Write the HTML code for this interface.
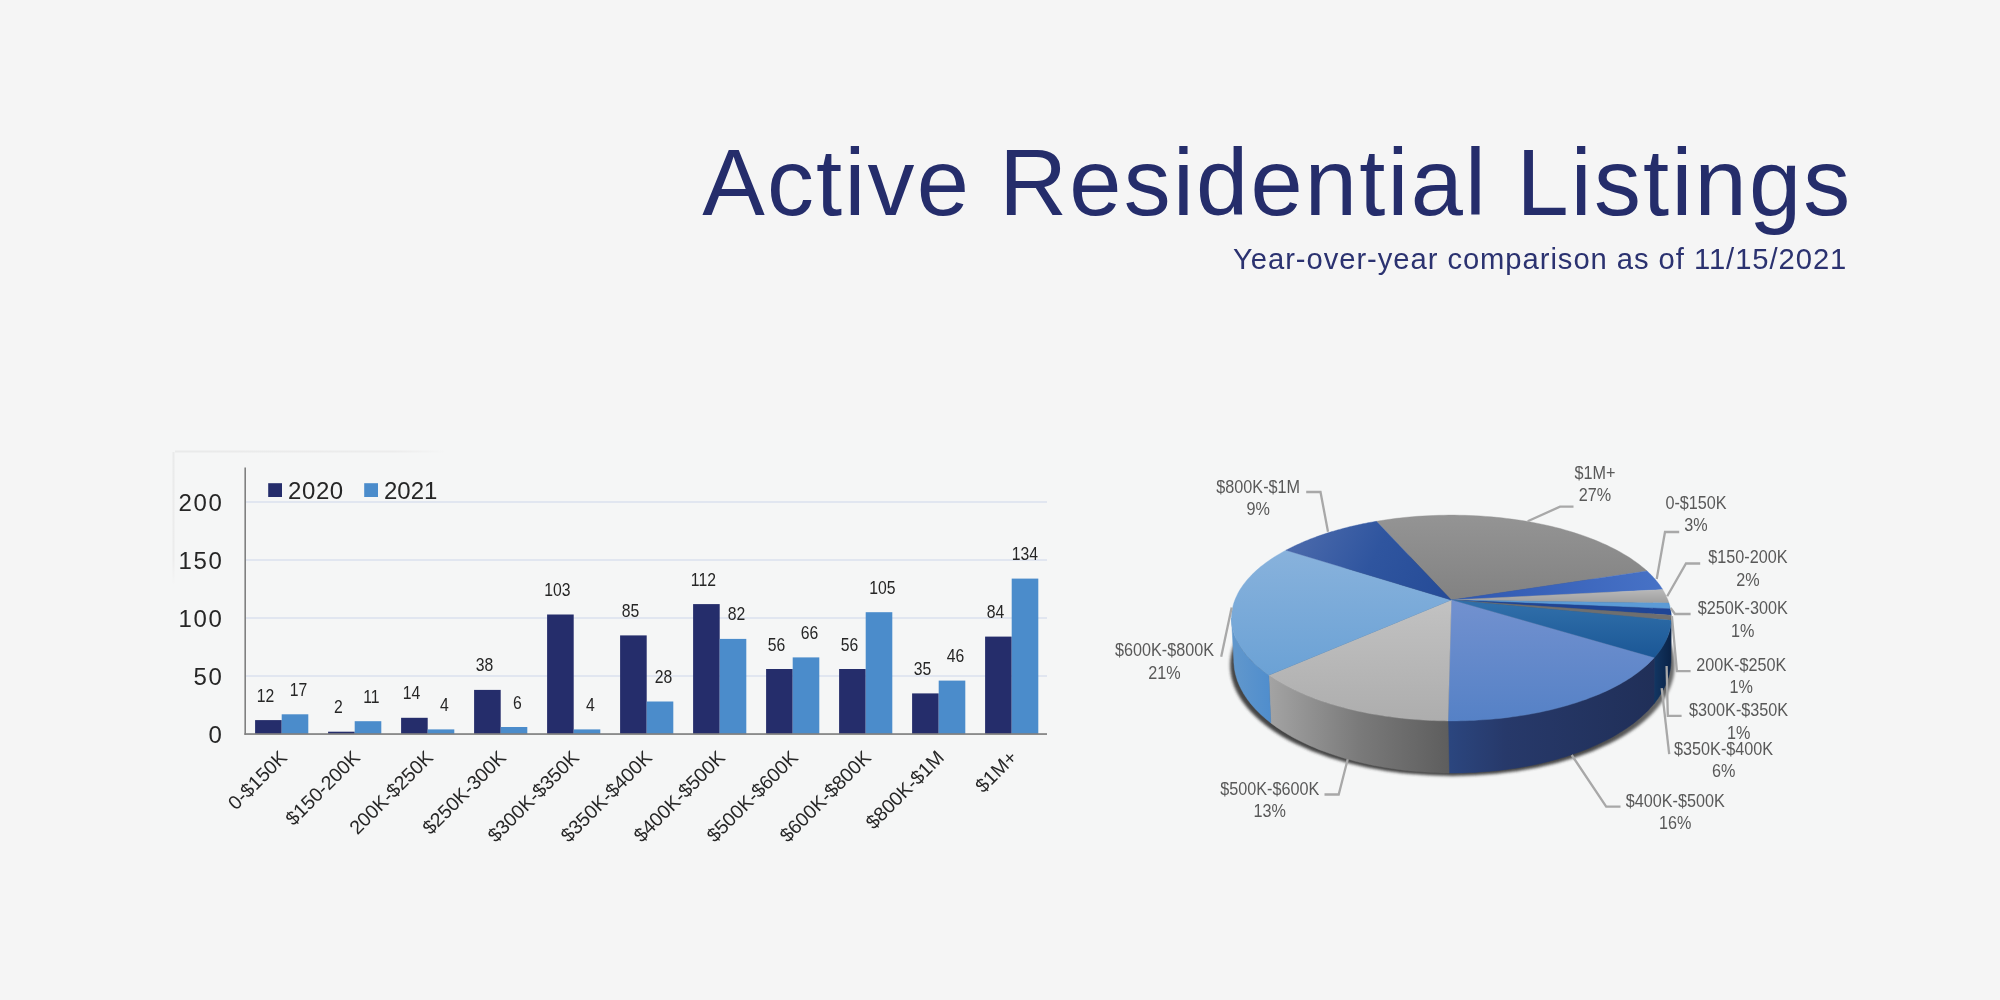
<!DOCTYPE html>
<html><head><meta charset="utf-8"><title>Active Residential Listings</title>
<style>
html,body{margin:0;padding:0;background:#f5f5f5;}
body{width:2000px;height:1000px;overflow:hidden;position:relative;font-family:"Liberation Sans",sans-serif;}
svg{position:absolute;left:0;top:0;display:block;will-change:transform;}
svg text{font-family:"Liberation Sans",sans-serif;}
.title{position:absolute;right:147.5px;top:130px;font-size:93.8px;line-height:105px;letter-spacing:2.25px;color:#252d6b;white-space:nowrap;margin:0;font-weight:normal;}
.sub{position:absolute;right:152.7px;top:243.3px;font-size:29.2px;line-height:33px;letter-spacing:0.95px;color:#2b3270;white-space:nowrap;margin:0;}
</style></head><body>
<svg width="2000" height="1000" viewBox="0 0 2000 1000">
<defs>
<filter id="blur" x="-10%" y="-10%" width="120%" height="120%"><feGaussianBlur stdDeviation="1.6"/></filter>
<linearGradient id="fadeH" x1="175" x2="447" y1="0" y2="0" gradientUnits="userSpaceOnUse"><stop offset="0" stop-color="#e9eaea"/><stop offset="0.8" stop-color="#ececec"/><stop offset="1" stop-color="#f5f6f6"/></linearGradient>
<linearGradient id="fadeV" x1="0" x2="0" y1="452" y2="585" gradientUnits="userSpaceOnUse"><stop offset="0" stop-color="#e9eaea"/><stop offset="0.8" stop-color="#ececec"/><stop offset="1" stop-color="#f5f6f6"/></linearGradient>
<linearGradient id="gShadow" x1="1230" y1="0" x2="1675" y2="0" gradientUnits="userSpaceOnUse"><stop offset="0" stop-color="#303030"/><stop offset="0.8" stop-color="#343434"/><stop offset="1" stop-color="#5e5e5e"/></linearGradient>
<linearGradient id="gGray" x1="0" y1="515" x2="0" y2="600" gradientUnits="userSpaceOnUse"><stop offset="0" stop-color="#949494"/><stop offset="1" stop-color="#828282"/></linearGradient>
<linearGradient id="gB0" x1="1451" y1="600" x2="1660" y2="575" gradientUnits="userSpaceOnUse"><stop offset="0" stop-color="#2f57b0"/><stop offset="1" stop-color="#4772c6"/></linearGradient>
<linearGradient id="gLG2" x1="0" y1="588" x2="0" y2="604" gradientUnits="userSpaceOnUse"><stop offset="0" stop-color="#bcbcbc"/><stop offset="1" stop-color="#9c9c9c"/></linearGradient>
<linearGradient id="gTeal" x1="0" y1="605" x2="0" y2="660" gradientUnits="userSpaceOnUse"><stop offset="0" stop-color="#2f6ea9"/><stop offset="1" stop-color="#1a5695"/></linearGradient>
<linearGradient id="gMed" x1="0" y1="600" x2="0" y2="722" gradientUnits="userSpaceOnUse"><stop offset="0" stop-color="#7291cf"/><stop offset="1" stop-color="#5581c6"/></linearGradient>
<linearGradient id="gLG" x1="0" y1="600" x2="0" y2="722" gradientUnits="userSpaceOnUse"><stop offset="0" stop-color="#c2c2c2"/><stop offset="1" stop-color="#adadad"/></linearGradient>
<linearGradient id="gLB" x1="0" y1="550" x2="0" y2="680" gradientUnits="userSpaceOnUse"><stop offset="0" stop-color="#88b2dc"/><stop offset="1" stop-color="#6aa1d5"/></linearGradient>
<linearGradient id="gDB" x1="1300" y1="530" x2="1440" y2="600" gradientUnits="userSpaceOnUse"><stop offset="0" stop-color="#4a69ab"/><stop offset="0.5" stop-color="#2f559f"/><stop offset="1" stop-color="#264c98"/></linearGradient>
<linearGradient id="sLB" x1="1231" y1="0" x2="1272" y2="0" gradientUnits="userSpaceOnUse"><stop offset="0" stop-color="#6298cc"/><stop offset="1" stop-color="#4f8dcd"/></linearGradient>
<linearGradient id="sGray" x1="1270" y1="0" x2="1448" y2="0" gradientUnits="userSpaceOnUse"><stop offset="0" stop-color="#a3a3a3"/><stop offset="0.5" stop-color="#7a7a7a"/><stop offset="1" stop-color="#5e5e5e"/></linearGradient>
<linearGradient id="sNavy" x1="1448" y1="0" x2="1656" y2="0" gradientUnits="userSpaceOnUse"><stop offset="0" stop-color="#2b467f"/><stop offset="0.28" stop-color="#27396a"/><stop offset="1" stop-color="#202f58"/></linearGradient>
<linearGradient id="sTeal" x1="1655" y1="0" x2="1671" y2="0" gradientUnits="userSpaceOnUse"><stop offset="0" stop-color="#123561"/><stop offset="1" stop-color="#0a2347"/></linearGradient>
</defs>
<g id="barchart">
<rect x="150" y="430" width="1700" height="420" fill="#f5f6f6"/>
<path d="M175 451.5 H447" stroke="url(#fadeH)" stroke-width="2" fill="none"/>
<path d="M173.5 452 V585" stroke="url(#fadeV)" stroke-width="2" fill="none"/>
<rect x="245.2" y="675.2" width="801.8" height="1.6" fill="#dde2ee"/>
<rect x="245.2" y="617.2" width="801.8" height="1.6" fill="#dde2ee"/>
<rect x="245.2" y="559.2" width="801.8" height="1.6" fill="#dde2ee"/>
<rect x="245.2" y="501.2" width="801.8" height="1.6" fill="#dde2ee"/>
<rect x="255.1" y="720.1" width="26.6" height="13.9" fill="#252d6b"/>
<rect x="281.7" y="714.3" width="26.6" height="19.7" fill="#4b8ccb"/>
<rect x="328.1" y="731.7" width="26.6" height="2.3" fill="#252d6b"/>
<rect x="354.7" y="721.2" width="26.6" height="12.8" fill="#4b8ccb"/>
<rect x="401.1" y="717.8" width="26.6" height="16.2" fill="#252d6b"/>
<rect x="427.7" y="729.4" width="26.6" height="4.6" fill="#4b8ccb"/>
<rect x="474.1" y="689.9" width="26.6" height="44.1" fill="#252d6b"/>
<rect x="500.7" y="727.0" width="26.6" height="7.0" fill="#4b8ccb"/>
<rect x="547.1" y="614.5" width="26.6" height="119.5" fill="#252d6b"/>
<rect x="573.7" y="729.4" width="26.6" height="4.6" fill="#4b8ccb"/>
<rect x="620.1" y="635.4" width="26.6" height="98.6" fill="#252d6b"/>
<rect x="646.7" y="701.5" width="26.6" height="32.5" fill="#4b8ccb"/>
<rect x="693.1" y="604.1" width="26.6" height="129.9" fill="#252d6b"/>
<rect x="719.7" y="638.9" width="26.6" height="95.1" fill="#4b8ccb"/>
<rect x="766.1" y="669.0" width="26.6" height="65.0" fill="#252d6b"/>
<rect x="792.7" y="657.4" width="26.6" height="76.6" fill="#4b8ccb"/>
<rect x="839.1" y="669.0" width="26.6" height="65.0" fill="#252d6b"/>
<rect x="865.7" y="612.2" width="26.6" height="121.8" fill="#4b8ccb"/>
<rect x="912.1" y="693.4" width="26.6" height="40.6" fill="#252d6b"/>
<rect x="938.7" y="680.6" width="26.6" height="53.4" fill="#4b8ccb"/>
<rect x="985.1" y="636.6" width="26.6" height="97.4" fill="#252d6b"/>
<rect x="1011.7" y="578.6" width="26.6" height="155.4" fill="#4b8ccb"/>
<rect x="244.4" y="467.5" width="1.6" height="267.3" fill="#808080"/>
<rect x="244.4" y="733.2" width="802.6" height="1.7" fill="#808080"/>
<text x="223.4" y="743.2" font-size="24" text-anchor="end" letter-spacing="1.6" fill="#262626">0</text>
<text x="223.4" y="685.2" font-size="24" text-anchor="end" letter-spacing="1.6" fill="#262626">50</text>
<text x="223.4" y="627.2" font-size="24" text-anchor="end" letter-spacing="1.6" fill="#262626">100</text>
<text x="223.4" y="569.2" font-size="24" text-anchor="end" letter-spacing="1.6" fill="#262626">150</text>
<text x="223.4" y="511.2" font-size="24" text-anchor="end" letter-spacing="1.6" fill="#262626">200</text>
<rect x="268.2" y="483.2" width="13.8" height="13.8" fill="#252d6b"/>
<text x="288" y="498.6" font-size="24" letter-spacing="0.6" fill="#262626">2020</text>
<rect x="364.2" y="483.2" width="13.8" height="13.8" fill="#4b8ccb"/>
<text x="384" y="498.6" font-size="24" fill="#262626">2021</text>
<text transform="translate(265.4,701.6) scale(0.9,1)" font-size="17.5" text-anchor="middle" fill="#262626">12</text>
<text transform="translate(298.4,695.8) scale(0.9,1)" font-size="17.5" text-anchor="middle" fill="#262626">17</text>
<text transform="translate(338.4,713.2) scale(0.9,1)" font-size="17.5" text-anchor="middle" fill="#262626">2</text>
<text transform="translate(371.4,702.7) scale(0.9,1)" font-size="17.5" text-anchor="middle" fill="#262626">11</text>
<text transform="translate(411.4,699.3) scale(0.9,1)" font-size="17.5" text-anchor="middle" fill="#262626">14</text>
<text transform="translate(444.4,710.9) scale(0.9,1)" font-size="17.5" text-anchor="middle" fill="#262626">4</text>
<text transform="translate(484.4,671.4) scale(0.9,1)" font-size="17.5" text-anchor="middle" fill="#262626">38</text>
<text transform="translate(517.4,708.5) scale(0.9,1)" font-size="17.5" text-anchor="middle" fill="#262626">6</text>
<text transform="translate(557.4,596.0) scale(0.9,1)" font-size="17.5" text-anchor="middle" fill="#262626">103</text>
<text transform="translate(590.4,710.9) scale(0.9,1)" font-size="17.5" text-anchor="middle" fill="#262626">4</text>
<text transform="translate(630.4,616.9) scale(0.9,1)" font-size="17.5" text-anchor="middle" fill="#262626">85</text>
<text transform="translate(663.4,683.0) scale(0.9,1)" font-size="17.5" text-anchor="middle" fill="#262626">28</text>
<text transform="translate(703.4,585.6) scale(0.9,1)" font-size="17.5" text-anchor="middle" fill="#262626">112</text>
<text transform="translate(736.4,620.4) scale(0.9,1)" font-size="17.5" text-anchor="middle" fill="#262626">82</text>
<text transform="translate(776.4,650.5) scale(0.9,1)" font-size="17.5" text-anchor="middle" fill="#262626">56</text>
<text transform="translate(809.4,638.9) scale(0.9,1)" font-size="17.5" text-anchor="middle" fill="#262626">66</text>
<text transform="translate(849.4,650.5) scale(0.9,1)" font-size="17.5" text-anchor="middle" fill="#262626">56</text>
<text transform="translate(882.4,593.7) scale(0.9,1)" font-size="17.5" text-anchor="middle" fill="#262626">105</text>
<text transform="translate(922.4,674.9) scale(0.9,1)" font-size="17.5" text-anchor="middle" fill="#262626">35</text>
<text transform="translate(955.4,662.1) scale(0.9,1)" font-size="17.5" text-anchor="middle" fill="#262626">46</text>
<text transform="translate(995.4,618.1) scale(0.9,1)" font-size="17.5" text-anchor="middle" fill="#262626">84</text>
<text transform="translate(1025.0,560.1) scale(0.9,1)" font-size="17.5" text-anchor="middle" fill="#262626">134</text>
<text transform="translate(288.2,758.8) rotate(-45)" font-size="19.55" text-anchor="end" fill="#262626">0-$150K</text>
<text transform="translate(361.2,758.8) rotate(-45)" font-size="19.55" text-anchor="end" fill="#262626">$150-200K</text>
<text transform="translate(434.2,758.8) rotate(-45)" font-size="19.55" text-anchor="end" fill="#262626">200K-$250K</text>
<text transform="translate(507.2,758.8) rotate(-45)" font-size="19.55" text-anchor="end" fill="#262626">$250K-300K</text>
<text transform="translate(580.2,758.8) rotate(-45)" font-size="19.55" text-anchor="end" fill="#262626">$300K-$350K</text>
<text transform="translate(653.2,758.8) rotate(-45)" font-size="19.55" text-anchor="end" fill="#262626">$350K-$400K</text>
<text transform="translate(726.2,758.8) rotate(-45)" font-size="19.55" text-anchor="end" fill="#262626">$400K-$500K</text>
<text transform="translate(799.2,758.8) rotate(-45)" font-size="19.55" text-anchor="end" fill="#262626">$500K-$600K</text>
<text transform="translate(872.2,758.8) rotate(-45)" font-size="19.55" text-anchor="end" fill="#262626">$600K-$800K</text>
<text transform="translate(945.2,758.8) rotate(-45)" font-size="19.55" text-anchor="end" fill="#262626">$800K-$1M</text>
<text transform="translate(1018.2,758.8) rotate(-45)" font-size="19.55" text-anchor="end" fill="#262626">$1M+</text>
</g>
<g id="piechart">
<ellipse cx="1452.4" cy="665" rx="222.3" ry="111" fill="url(#gShadow)" opacity="0.9" filter="url(#blur)"/>
<path d="M1671.3 618.0 L1671.3 618.7 L1671.3 619.4 L1671.3 620.0 L1671.2 620.7 L1671.2 621.4 L1671.1 622.1 L1671.1 622.8 L1671.0 623.5 L1670.9 624.1 L1670.8 624.8 L1670.7 625.5 L1670.6 626.2 L1670.5 626.9 L1670.4 627.5 L1670.2 628.2 L1670.1 628.9 L1669.9 629.6 L1669.7 630.2 L1669.6 630.9 L1669.4 631.6 L1669.2 632.3 L1669.0 632.9 L1668.8 633.6 L1668.5 634.3 L1668.3 635.0 L1668.0 635.6 L1667.8 636.3 L1667.5 637.0 L1667.3 637.6 L1667.0 638.3 L1666.7 639.0 L1666.4 639.7 L1666.1 640.3 L1665.7 641.0 L1665.4 641.6 L1665.1 642.3 L1664.7 643.0 L1664.4 643.6 L1664.0 644.3 L1663.6 645.0 L1663.2 645.6 L1662.8 646.3 L1662.4 646.9 L1662.0 647.6 L1661.6 648.2 L1661.2 648.9 L1660.7 649.5 L1660.3 650.2 L1659.8 650.8 L1659.3 651.5 L1658.9 652.1 L1658.4 652.8 L1657.9 653.4 L1657.4 654.0 L1656.9 654.7 L1656.3 655.3 L1655.8 655.9 L1655.3 656.6 L1654.7 657.2 L1654.2 657.8 L1654.0 703.7 L1654.5 703.1 L1655.1 702.4 L1655.6 701.7 L1656.1 701.0 L1656.6 700.3 L1657.2 699.6 L1657.7 698.9 L1658.2 698.2 L1658.6 697.5 L1659.1 696.8 L1659.6 696.0 L1660.0 695.3 L1660.5 694.6 L1660.9 693.9 L1661.4 693.2 L1661.8 692.5 L1662.2 691.8 L1662.6 691.0 L1663.0 690.3 L1663.4 689.6 L1663.7 688.9 L1664.1 688.1 L1664.5 687.4 L1664.8 686.7 L1665.1 686.0 L1665.5 685.2 L1665.8 684.5 L1666.1 683.8 L1666.4 683.0 L1666.7 682.3 L1667.0 681.6 L1667.2 680.8 L1667.5 680.1 L1667.8 679.4 L1668.0 678.6 L1668.2 677.9 L1668.5 677.2 L1668.7 676.4 L1668.9 675.7 L1669.1 674.9 L1669.3 674.2 L1669.4 673.4 L1669.6 672.7 L1669.8 672.0 L1669.9 671.2 L1670.1 670.5 L1670.2 669.7 L1670.3 669.0 L1670.4 668.2 L1670.5 667.5 L1670.6 666.7 L1670.7 666.0 L1670.8 665.2 L1670.8 664.5 L1670.9 663.7 L1670.9 663.0 L1671.0 662.2 L1671.0 661.5 L1671.0 660.7 L1671.0 660.0 Z" fill="url(#sTeal)" stroke="url(#sTeal)" stroke-width="0.5"/>
<path d="M1654.2 657.8 L1652.4 659.7 L1650.6 661.6 L1648.7 663.4 L1646.8 665.2 L1644.7 667.0 L1642.6 668.8 L1640.4 670.6 L1638.2 672.3 L1635.8 674.0 L1633.4 675.7 L1631.0 677.4 L1628.4 679.1 L1625.8 680.7 L1623.1 682.3 L1620.3 683.9 L1617.5 685.4 L1614.6 687.0 L1611.7 688.5 L1608.7 689.9 L1605.6 691.4 L1602.5 692.8 L1599.3 694.2 L1596.0 695.5 L1592.7 696.8 L1589.3 698.1 L1585.9 699.4 L1582.4 700.6 L1578.9 701.8 L1575.3 703.0 L1571.7 704.1 L1568.0 705.2 L1564.3 706.3 L1560.6 707.3 L1556.8 708.3 L1552.9 709.3 L1549.0 710.2 L1545.1 711.1 L1541.2 711.9 L1537.2 712.8 L1533.1 713.5 L1529.1 714.3 L1525.0 715.0 L1520.9 715.6 L1516.7 716.3 L1512.5 716.8 L1508.3 717.4 L1504.1 717.9 L1499.9 718.4 L1495.6 718.8 L1491.3 719.2 L1487.1 719.5 L1482.8 719.8 L1478.4 720.1 L1474.1 720.4 L1469.8 720.5 L1465.4 720.7 L1461.1 720.8 L1456.7 720.9 L1452.4 720.9 L1448.0 720.9 L1449.0 773.0 L1453.4 773.0 L1457.7 773.0 L1462.0 772.9 L1466.3 772.8 L1470.7 772.6 L1475.0 772.4 L1479.3 772.1 L1483.6 771.8 L1487.8 771.5 L1492.1 771.1 L1496.4 770.7 L1500.6 770.2 L1504.8 769.7 L1509.0 769.1 L1513.2 768.5 L1517.3 767.9 L1521.4 767.2 L1525.5 766.5 L1529.6 765.7 L1533.6 764.9 L1537.7 764.1 L1541.6 763.2 L1545.6 762.2 L1549.5 761.3 L1553.3 760.2 L1557.1 759.2 L1560.9 758.1 L1564.7 757.0 L1568.4 755.8 L1572.0 754.6 L1575.6 753.3 L1579.2 752.1 L1582.7 750.7 L1586.1 749.4 L1589.5 748.0 L1592.9 746.6 L1596.1 745.1 L1599.4 743.6 L1602.6 742.1 L1605.7 740.6 L1608.7 739.0 L1611.7 737.4 L1614.7 735.7 L1617.5 734.0 L1620.3 732.3 L1623.1 730.6 L1625.8 728.8 L1628.4 727.1 L1630.9 725.2 L1633.4 723.4 L1635.8 721.5 L1638.1 719.6 L1640.3 717.7 L1642.5 715.8 L1644.6 713.8 L1646.6 711.9 L1648.6 709.9 L1650.4 707.8 L1652.2 705.8 L1654.0 703.7 Z" fill="url(#sNavy)" stroke="url(#sNavy)" stroke-width="0.5"/>
<path d="M1448.0 720.9 L1444.5 720.8 L1440.9 720.8 L1437.4 720.7 L1433.9 720.6 L1430.4 720.4 L1426.8 720.3 L1423.3 720.1 L1419.8 719.8 L1416.3 719.6 L1412.9 719.3 L1409.4 719.0 L1405.9 718.7 L1402.5 718.3 L1399.0 717.9 L1395.6 717.5 L1392.2 717.1 L1388.8 716.6 L1385.4 716.2 L1382.0 715.6 L1378.7 715.1 L1375.4 714.6 L1372.1 714.0 L1368.8 713.4 L1365.5 712.7 L1362.3 712.1 L1359.0 711.4 L1355.8 710.7 L1352.7 709.9 L1349.5 709.2 L1346.4 708.4 L1343.3 707.6 L1340.3 706.8 L1337.2 705.9 L1334.2 705.1 L1331.2 704.2 L1328.3 703.3 L1325.4 702.3 L1322.5 701.4 L1319.6 700.4 L1316.8 699.4 L1314.1 698.4 L1311.3 697.3 L1308.6 696.3 L1305.9 695.2 L1303.3 694.1 L1300.7 692.9 L1298.2 691.8 L1295.6 690.6 L1293.2 689.5 L1290.7 688.3 L1288.3 687.0 L1286.0 685.8 L1283.7 684.5 L1281.4 683.3 L1279.2 682.0 L1277.0 680.7 L1274.9 679.4 L1272.8 678.0 L1270.8 676.7 L1268.8 675.3 L1270.8 722.9 L1272.8 724.4 L1274.9 725.9 L1276.9 727.4 L1279.0 728.8 L1281.2 730.3 L1283.4 731.7 L1285.7 733.1 L1288.0 734.5 L1290.3 735.8 L1292.7 737.2 L1295.1 738.5 L1297.6 739.8 L1300.1 741.0 L1302.6 742.3 L1305.2 743.5 L1307.8 744.7 L1310.5 745.9 L1313.1 747.1 L1315.9 748.2 L1318.6 749.4 L1321.4 750.5 L1324.3 751.5 L1327.1 752.6 L1330.0 753.6 L1332.9 754.6 L1335.9 755.6 L1338.9 756.6 L1341.9 757.5 L1345.0 758.4 L1348.0 759.3 L1351.1 760.1 L1354.3 761.0 L1357.4 761.8 L1360.6 762.6 L1363.8 763.3 L1367.0 764.0 L1370.3 764.7 L1373.5 765.4 L1376.8 766.0 L1380.1 766.6 L1383.4 767.2 L1386.8 767.8 L1390.2 768.3 L1393.5 768.8 L1396.9 769.3 L1400.3 769.7 L1403.7 770.2 L1407.2 770.6 L1410.6 770.9 L1414.1 771.3 L1417.5 771.6 L1421.0 771.8 L1424.5 772.1 L1428.0 772.3 L1431.5 772.5 L1435.0 772.6 L1438.5 772.8 L1442.0 772.9 L1445.5 772.9 L1449.0 773.0 Z" fill="url(#sGray)" stroke="url(#sGray)" stroke-width="0.5"/>
<path d="M1268.8 675.3 L1267.6 674.5 L1266.4 673.6 L1265.2 672.8 L1264.1 671.9 L1263.0 671.0 L1261.9 670.2 L1260.8 669.3 L1259.7 668.4 L1258.6 667.5 L1257.6 666.6 L1256.6 665.7 L1255.6 664.8 L1254.6 663.9 L1253.7 663.0 L1252.7 662.1 L1251.8 661.2 L1250.9 660.3 L1250.0 659.4 L1249.2 658.4 L1248.3 657.5 L1247.5 656.5 L1246.7 655.6 L1245.9 654.7 L1245.2 653.7 L1244.4 652.8 L1243.7 651.8 L1243.0 650.8 L1242.3 649.9 L1241.7 648.9 L1241.0 648.0 L1240.4 647.0 L1239.8 646.0 L1239.2 645.0 L1238.7 644.1 L1238.1 643.1 L1237.6 642.1 L1237.1 641.1 L1236.6 640.1 L1236.2 639.1 L1235.7 638.1 L1235.3 637.1 L1234.9 636.1 L1234.6 635.1 L1234.2 634.1 L1233.9 633.1 L1233.6 632.1 L1233.3 631.1 L1233.0 630.1 L1232.8 629.1 L1232.6 628.1 L1232.4 627.1 L1232.2 626.1 L1232.0 625.1 L1231.9 624.1 L1231.8 623.1 L1231.7 622.1 L1231.6 621.0 L1231.5 620.0 L1231.5 619.0 L1231.5 618.0 L1233.8 660.0 L1233.8 661.1 L1233.8 662.2 L1233.9 663.3 L1234.0 664.4 L1234.1 665.6 L1234.2 666.7 L1234.3 667.8 L1234.5 668.9 L1234.7 670.0 L1234.9 671.1 L1235.1 672.2 L1235.3 673.3 L1235.6 674.4 L1235.9 675.5 L1236.2 676.6 L1236.5 677.7 L1236.9 678.8 L1237.2 679.9 L1237.6 681.0 L1238.0 682.1 L1238.5 683.2 L1238.9 684.3 L1239.4 685.4 L1239.9 686.5 L1240.4 687.5 L1240.9 688.6 L1241.5 689.7 L1242.1 690.8 L1242.7 691.8 L1243.3 692.9 L1243.9 694.0 L1244.6 695.0 L1245.2 696.1 L1245.9 697.1 L1246.7 698.2 L1247.4 699.2 L1248.1 700.3 L1248.9 701.3 L1249.7 702.3 L1250.5 703.4 L1251.4 704.4 L1252.2 705.4 L1253.1 706.4 L1254.0 707.4 L1254.9 708.4 L1255.8 709.4 L1256.8 710.4 L1257.8 711.4 L1258.8 712.4 L1259.8 713.4 L1260.8 714.4 L1261.8 715.4 L1262.9 716.3 L1264.0 717.3 L1265.1 718.2 L1266.2 719.2 L1267.3 720.1 L1268.5 721.1 L1269.7 722.0 L1270.8 722.9 Z" fill="url(#sLB)" stroke="url(#sLB)" stroke-width="0.5"/>
<path d="M1451.3 600.0 L1376.4 521.3 L1381.4 520.5 L1386.4 519.7 L1391.5 519.0 L1396.6 518.3 L1401.8 517.8 L1406.9 517.2 L1412.1 516.8 L1417.4 516.3 L1422.6 516.0 L1427.9 515.7 L1433.1 515.5 L1438.4 515.3 L1443.7 515.2 L1449.0 515.1 L1454.3 515.1 L1459.6 515.2 L1464.9 515.3 L1470.2 515.5 L1475.4 515.7 L1480.7 516.0 L1485.9 516.4 L1491.1 516.8 L1496.3 517.3 L1501.5 517.8 L1506.7 518.4 L1511.8 519.1 L1516.8 519.8 L1521.9 520.5 L1526.9 521.3 L1531.8 522.2 L1536.7 523.2 L1541.6 524.2 L1546.4 525.2 L1551.1 526.3 L1555.8 527.4 L1560.4 528.6 L1565.0 529.9 L1569.5 531.2 L1573.9 532.6 L1578.3 534.0 L1582.6 535.4 L1586.8 536.9 L1590.9 538.5 L1595.0 540.1 L1599.0 541.7 L1602.8 543.4 L1606.6 545.1 L1610.3 546.9 L1614.0 548.7 L1617.5 550.6 L1620.9 552.4 L1624.2 554.4 L1627.4 556.3 L1630.6 558.3 L1633.6 560.4 L1636.5 562.4 L1639.3 564.5 L1642.0 566.7 L1644.6 568.8 L1647.1 571.0 Z" fill="url(#gGray)" stroke="url(#gGray)" stroke-width="0.4"/>
<path d="M1451.3 600.0 L1647.1 571.0 L1647.4 571.3 L1647.7 571.6 L1648.0 571.9 L1648.3 572.2 L1648.7 572.5 L1649.0 572.8 L1649.3 573.1 L1649.6 573.4 L1649.9 573.7 L1650.2 574.0 L1650.5 574.3 L1650.8 574.6 L1651.1 574.9 L1651.4 575.2 L1651.7 575.5 L1652.0 575.8 L1652.3 576.1 L1652.6 576.4 L1652.9 576.8 L1653.1 577.1 L1653.4 577.4 L1653.7 577.7 L1654.0 578.0 L1654.3 578.3 L1654.5 578.6 L1654.8 578.9 L1655.1 579.2 L1655.3 579.5 L1655.6 579.8 L1655.9 580.1 L1656.1 580.4 L1656.4 580.8 L1656.6 581.1 L1656.9 581.4 L1657.2 581.7 L1657.4 582.0 L1657.6 582.3 L1657.9 582.6 L1658.1 582.9 L1658.4 583.2 L1658.6 583.6 L1658.9 583.9 L1659.1 584.2 L1659.3 584.5 L1659.6 584.8 L1659.8 585.1 L1660.0 585.5 L1660.2 585.8 L1660.5 586.1 L1660.7 586.4 L1660.9 586.7 L1661.1 587.0 L1661.3 587.4 L1661.5 587.7 L1661.7 588.0 L1661.9 588.3 L1662.2 588.6 L1662.4 588.9 L1662.6 589.3 L1662.8 589.6 Z" fill="url(#gB0)" stroke="url(#gB0)" stroke-width="0.4"/>
<path d="M1451.3 600.0 L1662.8 589.6 L1662.9 589.8 L1663.0 590.0 L1663.2 590.3 L1663.3 590.5 L1663.4 590.7 L1663.5 590.9 L1663.7 591.1 L1663.8 591.4 L1663.9 591.6 L1664.1 591.8 L1664.2 592.0 L1664.3 592.2 L1664.4 592.5 L1664.5 592.7 L1664.7 592.9 L1664.8 593.1 L1664.9 593.4 L1665.0 593.6 L1665.1 593.8 L1665.3 594.0 L1665.4 594.3 L1665.5 594.5 L1665.6 594.7 L1665.7 594.9 L1665.8 595.1 L1665.9 595.4 L1666.0 595.6 L1666.1 595.8 L1666.2 596.0 L1666.3 596.3 L1666.4 596.5 L1666.5 596.7 L1666.6 596.9 L1666.7 597.2 L1666.8 597.4 L1666.9 597.6 L1667.0 597.8 L1667.1 598.1 L1667.2 598.3 L1667.3 598.5 L1667.4 598.7 L1667.5 599.0 L1667.6 599.2 L1667.7 599.4 L1667.8 599.6 L1667.9 599.9 L1667.9 600.1 L1668.0 600.3 L1668.1 600.6 L1668.2 600.8 L1668.3 601.0 L1668.4 601.2 L1668.4 601.5 L1668.5 601.7 L1668.6 601.9 L1668.7 602.1 L1668.7 602.4 L1668.8 602.6 L1668.9 602.8 L1669.0 603.1 Z" fill="url(#gLG2)" stroke="url(#gLG2)" stroke-width="0.4"/>
<path d="M1451.3 600.0 L1669.0 603.1 L1669.0 603.1 L1669.0 603.2 L1669.1 603.3 L1669.1 603.4 L1669.1 603.5 L1669.1 603.6 L1669.2 603.7 L1669.2 603.8 L1669.2 603.9 L1669.3 604.0 L1669.3 604.1 L1669.3 604.2 L1669.3 604.3 L1669.4 604.4 L1669.4 604.5 L1669.4 604.6 L1669.4 604.7 L1669.5 604.8 L1669.5 604.9 L1669.5 605.0 L1669.6 605.1 L1669.6 605.2 L1669.6 605.2 L1669.6 605.3 L1669.7 605.4 L1669.7 605.5 L1669.7 605.6 L1669.7 605.7 L1669.8 605.8 L1669.8 605.9 L1669.8 606.0 L1669.8 606.1 L1669.9 606.2 L1669.9 606.3 L1669.9 606.4 L1669.9 606.5 L1669.9 606.6 L1670.0 606.7 L1670.0 606.8 L1670.0 606.9 L1670.0 607.0 L1670.1 607.1 L1670.1 607.2 L1670.1 607.3 L1670.1 607.4 L1670.1 607.5 L1670.2 607.5 L1670.2 607.6 L1670.2 607.7 L1670.2 607.8 L1670.2 607.9 L1670.3 608.0 L1670.3 608.1 L1670.3 608.2 L1670.3 608.3 L1670.3 608.4 L1670.4 608.5 L1670.4 608.6 L1670.4 608.7 L1670.4 608.8 Z" fill="#5c9bd6" stroke="#5c9bd6" stroke-width="0.4"/>
<path d="M1451.3 600.0 L1670.4 608.8 L1670.4 608.9 L1670.5 609.0 L1670.5 609.1 L1670.5 609.2 L1670.5 609.3 L1670.5 609.4 L1670.6 609.5 L1670.6 609.6 L1670.6 609.8 L1670.6 609.9 L1670.6 610.0 L1670.6 610.1 L1670.7 610.2 L1670.7 610.3 L1670.7 610.4 L1670.7 610.5 L1670.7 610.6 L1670.7 610.7 L1670.8 610.8 L1670.8 610.9 L1670.8 611.0 L1670.8 611.1 L1670.8 611.2 L1670.8 611.3 L1670.9 611.5 L1670.9 611.6 L1670.9 611.7 L1670.9 611.8 L1670.9 611.9 L1670.9 612.0 L1670.9 612.1 L1671.0 612.2 L1671.0 612.3 L1671.0 612.4 L1671.0 612.5 L1671.0 612.6 L1671.0 612.7 L1671.0 612.8 L1671.0 612.9 L1671.0 613.1 L1671.1 613.2 L1671.1 613.3 L1671.1 613.4 L1671.1 613.5 L1671.1 613.6 L1671.1 613.7 L1671.1 613.8 L1671.1 613.9 L1671.1 614.0 L1671.1 614.1 L1671.2 614.2 L1671.2 614.3 L1671.2 614.4 L1671.2 614.5 L1671.2 614.7 L1671.2 614.8 L1671.2 614.9 L1671.2 615.0 L1671.2 615.1 L1671.2 615.2 Z" fill="#1f4596" stroke="#1f4596" stroke-width="0.4"/>
<path d="M1451.3 600.0 L1671.2 615.2 L1671.2 615.3 L1671.2 615.4 L1671.2 615.4 L1671.2 615.5 L1671.2 615.6 L1671.2 615.7 L1671.2 615.8 L1671.3 615.9 L1671.3 616.0 L1671.3 616.0 L1671.3 616.1 L1671.3 616.2 L1671.3 616.3 L1671.3 616.4 L1671.3 616.5 L1671.3 616.6 L1671.3 616.6 L1671.3 616.7 L1671.3 616.8 L1671.3 616.9 L1671.3 617.0 L1671.3 617.1 L1671.3 617.2 L1671.3 617.2 L1671.3 617.3 L1671.3 617.4 L1671.3 617.5 L1671.3 617.6 L1671.3 617.7 L1671.3 617.7 L1671.3 617.8 L1671.3 617.9 L1671.3 618.0 L1671.3 618.1 L1671.3 618.2 L1671.3 618.3 L1671.3 618.3 L1671.3 618.4 L1671.3 618.5 L1671.3 618.6 L1671.3 618.7 L1671.3 618.8 L1671.3 618.9 L1671.3 618.9 L1671.3 619.0 L1671.3 619.1 L1671.3 619.2 L1671.3 619.3 L1671.3 619.4 L1671.3 619.5 L1671.3 619.5 L1671.3 619.6 L1671.3 619.7 L1671.3 619.8 L1671.3 619.9 L1671.3 620.0 L1671.3 620.1 L1671.3 620.1 L1671.2 620.2 L1671.2 620.3 Z" fill="#6f6f6f" stroke="#6f6f6f" stroke-width="0.4"/>
<path d="M1451.3 600.0 L1671.2 620.3 L1671.2 621.0 L1671.2 621.6 L1671.1 622.2 L1671.1 622.9 L1671.0 623.5 L1670.9 624.2 L1670.8 624.8 L1670.7 625.4 L1670.6 626.1 L1670.5 626.7 L1670.4 627.4 L1670.3 628.0 L1670.1 628.7 L1670.0 629.3 L1669.8 629.9 L1669.7 630.6 L1669.5 631.2 L1669.3 631.8 L1669.1 632.5 L1668.9 633.1 L1668.7 633.8 L1668.5 634.4 L1668.3 635.0 L1668.0 635.7 L1667.8 636.3 L1667.5 636.9 L1667.3 637.6 L1667.0 638.2 L1666.8 638.8 L1666.5 639.4 L1666.2 640.1 L1665.9 640.7 L1665.6 641.3 L1665.3 642.0 L1664.9 642.6 L1664.6 643.2 L1664.3 643.8 L1663.9 644.5 L1663.6 645.1 L1663.2 645.7 L1662.8 646.3 L1662.4 646.9 L1662.0 647.5 L1661.6 648.2 L1661.2 648.8 L1660.8 649.4 L1660.4 650.0 L1660.0 650.6 L1659.5 651.2 L1659.1 651.8 L1658.6 652.4 L1658.2 653.0 L1657.7 653.6 L1657.2 654.2 L1656.7 654.8 L1656.2 655.4 L1655.7 656.0 L1655.2 656.6 L1654.7 657.2 L1654.2 657.8 Z" fill="url(#gTeal)" stroke="url(#gTeal)" stroke-width="0.4"/>
<path d="M1451.3 600.0 L1654.2 657.8 L1652.4 659.7 L1650.6 661.6 L1648.7 663.4 L1646.8 665.2 L1644.7 667.0 L1642.6 668.8 L1640.4 670.6 L1638.2 672.3 L1635.8 674.0 L1633.4 675.7 L1631.0 677.4 L1628.4 679.1 L1625.8 680.7 L1623.1 682.3 L1620.3 683.9 L1617.5 685.4 L1614.6 687.0 L1611.7 688.5 L1608.7 689.9 L1605.6 691.4 L1602.5 692.8 L1599.3 694.2 L1596.0 695.5 L1592.7 696.8 L1589.3 698.1 L1585.9 699.4 L1582.4 700.6 L1578.9 701.8 L1575.3 703.0 L1571.7 704.1 L1568.0 705.2 L1564.3 706.3 L1560.6 707.3 L1556.8 708.3 L1552.9 709.3 L1549.0 710.2 L1545.1 711.1 L1541.2 711.9 L1537.2 712.8 L1533.1 713.5 L1529.1 714.3 L1525.0 715.0 L1520.9 715.6 L1516.7 716.3 L1512.5 716.8 L1508.3 717.4 L1504.1 717.9 L1499.9 718.4 L1495.6 718.8 L1491.3 719.2 L1487.1 719.5 L1482.8 719.8 L1478.4 720.1 L1474.1 720.4 L1469.8 720.5 L1465.4 720.7 L1461.1 720.8 L1456.7 720.9 L1452.4 720.9 L1448.0 720.9 Z" fill="url(#gMed)" stroke="url(#gMed)" stroke-width="0.4"/>
<path d="M1451.3 600.0 L1448.0 720.9 L1444.5 720.8 L1440.9 720.8 L1437.4 720.7 L1433.9 720.6 L1430.4 720.4 L1426.8 720.3 L1423.3 720.1 L1419.8 719.8 L1416.3 719.6 L1412.9 719.3 L1409.4 719.0 L1405.9 718.7 L1402.5 718.3 L1399.0 717.9 L1395.6 717.5 L1392.2 717.1 L1388.8 716.6 L1385.4 716.2 L1382.0 715.6 L1378.7 715.1 L1375.4 714.6 L1372.1 714.0 L1368.8 713.4 L1365.5 712.7 L1362.3 712.1 L1359.0 711.4 L1355.8 710.7 L1352.7 709.9 L1349.5 709.2 L1346.4 708.4 L1343.3 707.6 L1340.3 706.8 L1337.2 705.9 L1334.2 705.1 L1331.2 704.2 L1328.3 703.3 L1325.4 702.3 L1322.5 701.4 L1319.6 700.4 L1316.8 699.4 L1314.1 698.4 L1311.3 697.3 L1308.6 696.3 L1305.9 695.2 L1303.3 694.1 L1300.7 692.9 L1298.2 691.8 L1295.6 690.6 L1293.2 689.5 L1290.7 688.3 L1288.3 687.0 L1286.0 685.8 L1283.7 684.5 L1281.4 683.3 L1279.2 682.0 L1277.0 680.7 L1274.9 679.4 L1272.8 678.0 L1270.8 676.7 L1268.8 675.3 Z" fill="url(#gLG)" stroke="url(#gLG)" stroke-width="0.4"/>
<path d="M1451.3 600.0 L1268.8 675.3 L1266.1 673.4 L1263.6 671.5 L1261.1 669.6 L1258.8 667.6 L1256.5 665.7 L1254.3 663.7 L1252.3 661.6 L1250.3 659.6 L1248.4 657.5 L1246.6 655.4 L1244.9 653.3 L1243.3 651.2 L1241.8 649.1 L1240.4 646.9 L1239.1 644.8 L1237.9 642.6 L1236.8 640.4 L1235.8 638.2 L1234.9 636.0 L1234.1 633.8 L1233.4 631.6 L1232.8 629.3 L1232.4 627.1 L1232.0 624.9 L1231.7 622.6 L1231.6 620.4 L1231.5 618.1 L1231.5 615.9 L1231.7 613.7 L1232.0 611.4 L1232.3 609.2 L1232.8 606.9 L1233.3 604.7 L1234.0 602.5 L1234.8 600.3 L1235.7 598.1 L1236.7 595.9 L1237.7 593.7 L1238.9 591.5 L1240.2 589.3 L1241.6 587.2 L1243.1 585.0 L1244.7 582.9 L1246.4 580.8 L1248.1 578.7 L1250.0 576.7 L1252.0 574.6 L1254.1 572.6 L1256.2 570.6 L1258.5 568.6 L1260.8 566.6 L1263.3 564.7 L1265.8 562.8 L1268.4 560.9 L1271.1 559.1 L1273.9 557.2 L1276.8 555.4 L1279.8 553.7 L1282.8 551.9 L1285.9 550.2 Z" fill="url(#gLB)" stroke="url(#gLB)" stroke-width="0.4"/>
<path d="M1451.3 600.0 L1285.9 550.2 L1287.2 549.6 L1288.4 548.9 L1289.6 548.3 L1290.9 547.7 L1292.2 547.0 L1293.4 546.4 L1294.7 545.8 L1296.0 545.2 L1297.3 544.6 L1298.7 544.0 L1300.0 543.4 L1301.3 542.8 L1302.7 542.2 L1304.1 541.6 L1305.4 541.0 L1306.8 540.5 L1308.2 539.9 L1309.6 539.3 L1311.0 538.8 L1312.5 538.2 L1313.9 537.7 L1315.3 537.2 L1316.8 536.6 L1318.3 536.1 L1319.7 535.6 L1321.2 535.1 L1322.7 534.6 L1324.2 534.1 L1325.7 533.6 L1327.2 533.1 L1328.8 532.6 L1330.3 532.1 L1331.9 531.6 L1333.4 531.2 L1335.0 530.7 L1336.5 530.3 L1338.1 529.8 L1339.7 529.4 L1341.3 528.9 L1342.9 528.5 L1344.5 528.1 L1346.1 527.7 L1347.8 527.2 L1349.4 526.8 L1351.0 526.4 L1352.7 526.1 L1354.3 525.7 L1356.0 525.3 L1357.7 524.9 L1359.3 524.6 L1361.0 524.2 L1362.7 523.8 L1364.4 523.5 L1366.1 523.2 L1367.8 522.8 L1369.5 522.5 L1371.2 522.2 L1372.9 521.9 L1374.7 521.6 L1376.4 521.3 Z" fill="url(#gDB)" stroke="url(#gDB)" stroke-width="0.4"/>
<path d="M1306.2 492 H1320.5 L1328 531.7" fill="none" stroke="#a8a8a8" stroke-width="2.3" stroke-linejoin="miter"/>
<path d="M1573.5 506.7 H1560 L1527.7 521.2" fill="none" stroke="#a8a8a8" stroke-width="2.3" stroke-linejoin="miter"/>
<path d="M1679.2 532 H1665 L1656.7 579" fill="none" stroke="#a8a8a8" stroke-width="2.3" stroke-linejoin="miter"/>
<path d="M1700.2 563.5 H1686 L1667.2 596.2" fill="none" stroke="#a8a8a8" stroke-width="2.3" stroke-linejoin="miter"/>
<path d="M1690.6 614 H1675 L1670.6 608" fill="none" stroke="#a8a8a8" stroke-width="2.3" stroke-linejoin="miter"/>
<path d="M1690.6 671.2 H1676.9 L1671.9 616.2" fill="none" stroke="#a8a8a8" stroke-width="2.3" stroke-linejoin="miter"/>
<path d="M1681.6 715.8 H1667.8 L1666.6 666" fill="none" stroke="#a8a8a8" stroke-width="2.3" stroke-linejoin="miter"/>
<path d="M1669.2 754.2 L1661.7 688.2" fill="none" stroke="#a8a8a8" stroke-width="2.3" stroke-linejoin="miter"/>
<path d="M1620.5 806.7 H1606.2 L1571.7 755" fill="none" stroke="#a8a8a8" stroke-width="2.3" stroke-linejoin="miter"/>
<path d="M1324.5 794.5 H1338.7 L1347.7 759.3" fill="none" stroke="#a8a8a8" stroke-width="2.3" stroke-linejoin="miter"/>
<path d="M1221.2 656.7 L1231.7 607.5" fill="none" stroke="#a8a8a8" stroke-width="2.3" stroke-linejoin="miter"/>
<text transform="translate(1258.2,492.7) scale(0.9,1)" font-size="18" text-anchor="middle" fill="#595959">$800K-$1M</text><text transform="translate(1258.2,515.3) scale(0.9,1)" font-size="18" text-anchor="middle" fill="#595959">9%</text>
<text transform="translate(1594.9,478.5) scale(0.9,1)" font-size="18" text-anchor="middle" fill="#595959">$1M+</text><text transform="translate(1594.9,501.1) scale(0.9,1)" font-size="18" text-anchor="middle" fill="#595959">27%</text>
<text transform="translate(1696.0,508.5) scale(0.9,1)" font-size="18" text-anchor="middle" fill="#595959">0-$150K</text><text transform="translate(1696.0,531.1) scale(0.9,1)" font-size="18" text-anchor="middle" fill="#595959">3%</text>
<text transform="translate(1747.9,563.2) scale(0.9,1)" font-size="18" text-anchor="middle" fill="#595959">$150-200K</text><text transform="translate(1747.9,585.8) scale(0.9,1)" font-size="18" text-anchor="middle" fill="#595959">2%</text>
<text transform="translate(1742.8,614.4) scale(0.9,1)" font-size="18" text-anchor="middle" fill="#595959">$250K-300K</text><text transform="translate(1742.8,637.0) scale(0.9,1)" font-size="18" text-anchor="middle" fill="#595959">1%</text>
<text transform="translate(1741.2,670.6) scale(0.9,1)" font-size="18" text-anchor="middle" fill="#595959">200K-$250K</text><text transform="translate(1741.2,693.2) scale(0.9,1)" font-size="18" text-anchor="middle" fill="#595959">1%</text>
<text transform="translate(1738.6,716.0) scale(0.9,1)" font-size="18" text-anchor="middle" fill="#595959">$300K-$350K</text><text transform="translate(1738.6,738.6) scale(0.9,1)" font-size="18" text-anchor="middle" fill="#595959">1%</text>
<text transform="translate(1723.6,754.5) scale(0.9,1)" font-size="18" text-anchor="middle" fill="#595959">$350K-$400K</text><text transform="translate(1723.6,777.1) scale(0.9,1)" font-size="18" text-anchor="middle" fill="#595959">6%</text>
<text transform="translate(1675.2,806.7) scale(0.9,1)" font-size="18" text-anchor="middle" fill="#595959">$400K-$500K</text><text transform="translate(1675.2,829.3) scale(0.9,1)" font-size="18" text-anchor="middle" fill="#595959">16%</text>
<text transform="translate(1269.7,794.5) scale(0.9,1)" font-size="18" text-anchor="middle" fill="#595959">$500K-$600K</text><text transform="translate(1269.7,817.1) scale(0.9,1)" font-size="18" text-anchor="middle" fill="#595959">13%</text>
<text transform="translate(1164.5,656.2) scale(0.9,1)" font-size="18" text-anchor="middle" fill="#595959">$600K-$800K</text><text transform="translate(1164.5,678.8) scale(0.9,1)" font-size="18" text-anchor="middle" fill="#595959">21%</text>
</g>
</svg>
<h1 class="title">Active Residential Listings</h1>
<p class="sub">Year-over-year comparison as of 11/15/2021</p>
</body></html>
